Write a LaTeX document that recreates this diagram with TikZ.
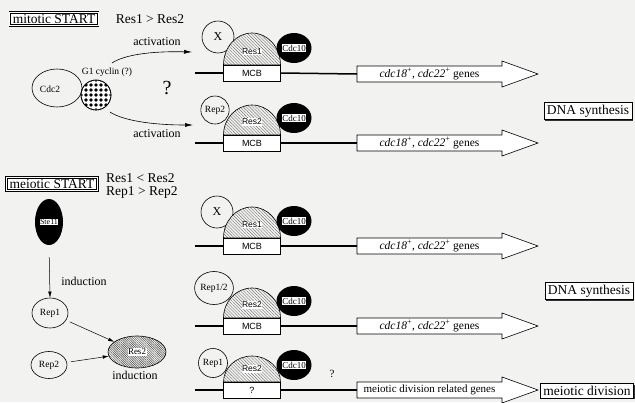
\documentclass[tikz,border=0pt]{standalone}
\usepackage{fontspec}
\setmainfont{Liberation Serif}
\newfontfamily\lsans{Liberation Sans}
\usetikzlibrary{shapes.geometric,arrows.meta,patterns.meta,calc,shadows}
\definecolor{bg}{RGB}{242,242,240}
\newcommand{\fs}[1]{\fontsize{#1}{#1}\selectfont}
\tikzset{
  thinl/.style={line width=0.6pt},
  startbox/.style={draw, double, double distance=1.3pt, line width=0.5pt, fill=white,
     inner xsep=3pt, inner ysep=2pt, font=\fs{13.5},
     drop shadow={shadow xshift=0.9pt, shadow yshift=-0.9pt, opacity=1, fill=black!70}},
  resultbox/.style={draw, line width=0.6pt, fill=white, inner xsep=3pt, inner ysep=2.5pt, font=\fs{13.5},
     drop shadow={shadow xshift=1.2pt, shadow yshift=-1.2pt, opacity=1, fill=black!80}},
  txt/.style={inner sep=0pt},
  lcirc/.style={ellipse, draw, thinl, fill=bg, inner sep=0pt, font=\fs{9.5}},
  cdcell/.style={ellipse, fill=black, minimum width=35pt, minimum height=30pt, inner sep=0pt},
  wlabel/.style={fill=white, inner sep=0.5pt, font=\fs{9}},
  reslabel/.style={fill=white, inner sep=0.5pt, font=\lsans\fs{8.5}},
  mcb/.style={draw, thinl, fill=white, minimum width=57pt, minimum height=16pt, inner sep=0pt, font=\lsans\fs{9}},
  dnaline/.style={line width=1.5pt},
  dome/.style={draw, thinl, preaction={fill=bg}, pattern={Lines[angle=-45,distance=2.2pt,line width=0.4pt]}, pattern color=black!55},
  shaft/.style={minimum width=145pt, minimum height=16pt, inner sep=0pt, font=\fs{11.5}},
  blk/.style={draw, thinl, fill=white, line join=miter},
  act/.style={line width=0.6pt, -{Latex[length=8pt,width=4pt]}},
  thinarr/.style={line width=0.5pt, -{Latex[length=6pt,width=3.5pt]}},
}
% row: #1 prefix, #2 line y, #3 left label, #4 left x, #5 left y, #6 left size, #7 res label, #8 box label, #9 dome ry
\newcommand{\prow}[9]{%
  \node[lcirc, minimum width=#6, minimum height=#6] (#1l) at (#4,#5) {#3};
  \coordinate (#1s) at (195,#2);
  \draw[dnaline] (#1s) -- (223.5,#2);
  \draw[dome] (223.5,#2-8) arc[start angle=180, end angle=360, x radius=28.5, y radius=#9] -- cycle;
  \node[cdcell] (#1c) at (294,#2-25) {};
  \node[wlabel] (#1cl) at (#1c) {Cdc10};
  \node[mcb] (#1b) at (252,#2) {#8};
  \node[reslabel] (#1r) at (252,#2-21) {#7};
}
% gene arrow: #1 name, #2 y, #3 text
\newcommand{\genearrow}[3]{%
  \coordinate (#1c) at (429.5,#2);
  \draw[blk] ($(#1c)+(-72.5,-8)$) -- ($(#1c)+(72.5,-8)$) -- ($(#1c)+(72.5,-13)$)
     -- ($(#1c)+(108.5,0)$) -- ($(#1c)+(72.5,13)$) -- ($(#1c)+(72.5,8)$)
     -- ($(#1c)+(-72.5,8)$) -- cycle;
  \node[shaft] (#1) at (#1c) {#3};
}
\begin{document}
\begin{tikzpicture}[x=1pt,y=-1pt]
\useasboundingbox (0,0) rectangle (635,402);
\fill[bg] (0,0) rectangle (635,402);

% ---------- mitotic START ----------
\node[startbox] (mstart) at (54,19) {mitotic START};
\node[txt, font=\fs{13.5}] (mcond) at (150,19) {Res1 > Res2};

\node[ellipse, draw, thinl, fill=bg, minimum width=50pt, minimum height=38pt, inner sep=0pt] (cdc2) at (57,88) {};
\node[txt, font=\fs{9.5}] (cdc2l) at (50,89) {Cdc2};
\node[circle, draw, thinl, fill=white, minimum size=30pt, inner sep=0pt] (g1) at (96,95) {};
\begin{scope}
  \clip (96,95) circle (14.6);
  \foreach \i in {-3,...,3}{\foreach \j in {-3,...,3}{
    \fill (96+\i*5,95+\j*5) circle (1.8);}}
\end{scope}
\draw[thinl] (g1) circle (15);
\node[txt, font=\fs{9.5}] (g1l) at (107,72) {G1 cyclin (?)};
\node[txt, font=\fs{20}] (q1) at (167,88) {?};
\node[txt, font=\fs{12}] (act1) at (157,42) {activation};
\node[txt, font=\fs{12}] (act2) at (157,134) {activation};
\coordinate (a1s) at (112,63);
\coordinate (a1e) at (192,52);
\draw[act] (a1s) .. controls (124,55) and (150,51) .. (a1e);
\coordinate (a2s) at (110,112);
\coordinate (a2e) at (193,125);
\draw[act] (a2s) .. controls (122,120) and (150,125) .. (a2e);

% ---------- rows ----------
\prow{ra}{73}{\fs{12}X}{218}{37}{32pt}{Res1}{MCB}{32}
\prow{rb}{143}{Rep2}{215}{110}{28pt}{Res2}{MCB}{30}
\prow{rc}{246}{\fs{12}X}{217}{212}{32pt}{Res1}{MCB}{31}
\prow{rd}{326}{Rep1/2}{214}{288}{33pt}{Res2}{MCB}{30}
\prow{re}{390}{Rep1}{213}{363}{29pt}{Res2}{\fs{9}?}{26}

\genearrow{ga}{74}{\textit{cdc18}\textsuperscript{+}, \textit{cdc22}\textsuperscript{+} genes}
\genearrow{gb}{143}{\textit{cdc18}\textsuperscript{+}, \textit{cdc22}\textsuperscript{+} genes}
\genearrow{gc}{246}{\textit{cdc18}\textsuperscript{+}, \textit{cdc22}\textsuperscript{+} genes}
\genearrow{gd}{326}{\textit{cdc18}\textsuperscript{+}, \textit{cdc22}\textsuperscript{+} genes}
\genearrow{ge}{390}{\fs{11}meiotic division related genes}
\draw[dnaline] (rab.east) -- (ga.west);
\draw[dnaline] (rbb.east) -- (gb.west);
\draw[dnaline] (rcb.east) -- (gc.west);
\draw[dnaline] (rdb.east) -- (gd.west);
\draw[dnaline] (reb.east) -- (ge.west);

\node[resultbox] (dna1) at (588,111) {DNA synthesis};
\node[resultbox] (dna2) at (589,291) {DNA synthesis};
\node[resultbox] (mdiv) at (587,391) {meiotic division};
\node[txt, font=\fs{11}] (q2) at (332,374) {?};

% ---------- meiotic START ----------
\node[startbox] (mestart) at (52,184) {meiotic START};
\node[txt, anchor=west, font=\fs{13.5}] (mec1) at (106,178) {Res1 < Res2};
\node[txt, anchor=west, font=\fs{13.5}] (mec2) at (106,192) {Rep1 > Rep2};

\node[ellipse, fill=black, minimum width=28pt, minimum height=46pt, inner sep=0pt] (ste) at (49,222) {};
\node[wlabel, font=\fs{8}] (stel) at (ste) {Ste11};
\node[lcirc, minimum width=36pt, minimum height=30pt] (lrep1) at (50,313) {Rep1};
\node[lcirc, minimum width=36pt, minimum height=27pt] (lrep2) at (49,365) {Rep2};
\draw[thinarr, shorten <=12pt] (ste.south) -- (lrep1.north);
\node[txt, font=\fs{12}] (ind1) at (84,281) {induction};
\node[ellipse, draw, thinl, preaction={fill=bg}, pattern={Lines[angle=-45,distance=1.6pt,line width=0.5pt]}, pattern color=black!70,
      minimum width=58pt, minimum height=32pt, inner sep=0pt] (lres2) at (137,352) {};
\node[wlabel] (lres2l) at (lres2) {Res2};
\node[txt, font=\fs{12}] (ind2) at (135,375) {induction};
\draw[thinarr, shorten <=4pt] (lrep1) -- (lres2);
\draw[thinarr, shorten <=4pt] (lrep2) -- (lres2);
\end{tikzpicture}
\end{document}
